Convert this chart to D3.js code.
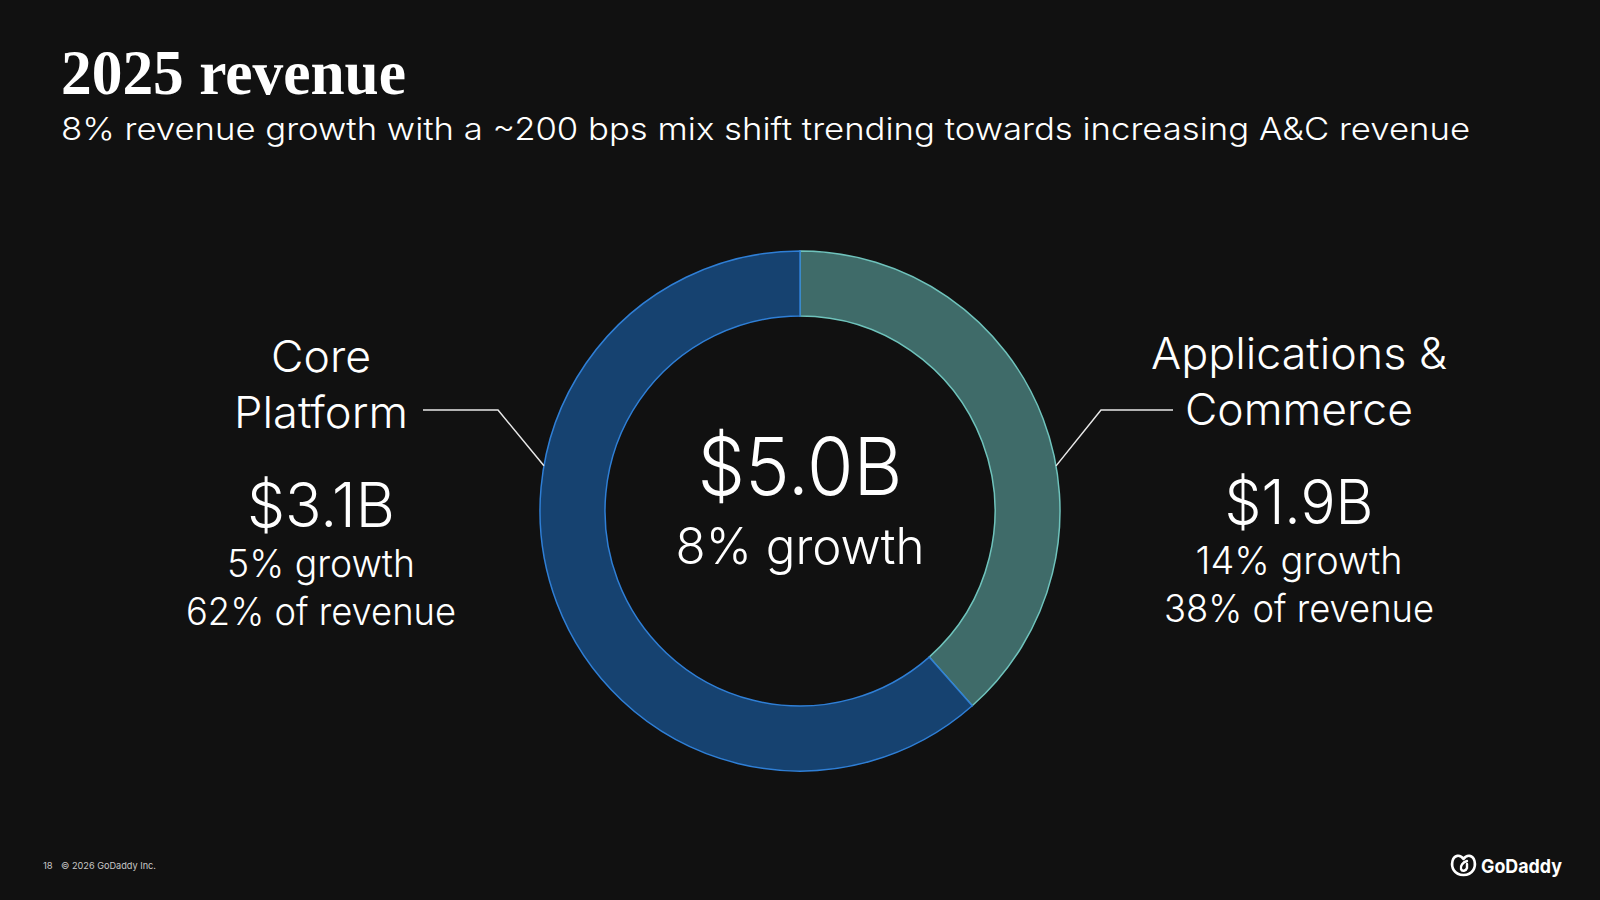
<!DOCTYPE html>
<html>
<head>
<meta charset="utf-8">
<script src="https://cdn.jsdelivr.net/npm/d3@7"></script>
<style>
  html, body { margin: 0; padding: 0; background: #111111; }
  svg { display: block; }
  .sans { font-family: Inter, "Noto Sans", sans-serif; font-weight: 300; fill: #ffffff; }
</style>
</head>
<body>
<div id="chart"></div>
<script>
'use strict';

// segment data, drawn clockwise from 12 o'clock
var segments = ['Applications & Commerce', 'Core Platform'];
var revenueBn = [1.92, 3.07];   // slice sizes as drawn
var shares = [38, 62];          // labelled % of revenue
var revenue = ['$1.9B', '$3.1B'];
var growth = ['14% growth', '5% growth'];
var totalRevenue = '$5.0B';
var totalGrowth = '8% growth';

var width = 1600, height = 900;
var cx = 800, cy = 511;
var outerR = 260, innerR = 195;

var fills = ['#3f6b69', '#164270'];
var strokes = ['#6fc3bc', '#2f7fd6'];

var svg = d3.select('#chart').append('svg')
  .attr('width', width)
  .attr('height', height);

// Title + subtitle
svg.append('text')
  .attr('x', 61).attr('y', 94)
  .attr('font-family', '"Liberation Serif", "DejaVu Serif", serif')
  .attr('font-weight', 700)
  .attr('font-size', 64)
  .attr('fill', '#fff')
  .attr('textLength', 345)
  .attr('lengthAdjust', 'spacingAndGlyphs')
  .text('2025 revenue');

svg.append('text')
  .attr('class', 'sans')
  .attr('x', 61).attr('y', 140)
  .attr('font-size', 31)
  .attr('textLength', 1409)
  .attr('lengthAdjust', 'spacingAndGlyphs')
  .text('8% revenue growth with a ~200 bps mix shift trending towards increasing A&C revenue');

// Donut
var pie = d3.pie().sort(null).value(function(d) { return d; });
var arc = d3.arc().innerRadius(innerR).outerRadius(outerR);

var donut = svg.append('g').attr('transform', 'translate(' + cx + ',' + cy + ')');

donut.selectAll('path.slice')
  .data(pie(revenueBn))
  .enter()
  .append('path')
  .attr('class', 'slice')
  .attr('d', arc)
  .attr('fill', function(d, i) { return fills[i]; })
  .attr('stroke', function(d, i) { return strokes[i]; })
  .attr('stroke-width', 1.5);

// Centre text
svg.append('text').attr('class', 'sans')
  .attr('x', cx).attr('y', 495)
  .attr('text-anchor', 'middle')
  .attr('font-size', 80)
  .attr('textLength', 205).attr('lengthAdjust', 'spacingAndGlyphs')
  .text(totalRevenue);

svg.append('text').attr('class', 'sans')
  .attr('x', cx).attr('y', 564)
  .attr('text-anchor', 'middle')
  .attr('font-size', 50)
  .attr('textLength', 249).attr('lengthAdjust', 'spacingAndGlyphs')
  .text(totalGrowth);

// Leader lines, from the outer edge at +/-80 degrees
function edgePoint(deg) {
  var a = deg * Math.PI / 180;
  return [cx + outerR * Math.sin(a), cy - outerR * Math.cos(a)];
}
var leaders = [
  [edgePoint(80), [1101, 410], [1173, 410]],
  [edgePoint(-80), [498, 410], [423, 410]]
];
svg.selectAll('path.leader')
  .data(leaders)
  .enter()
  .append('path')
  .attr('class', 'leader')
  .attr('d', d3.line())
  .attr('fill', 'none')
  .attr('stroke', '#e8e8e8')
  .attr('stroke-width', 1.5);

// Side labels
var sides = [
  { x: 1299, lines: ['Applications &', 'Commerce'], lw: [296, 228], i: 0, base: [369, 425, 524, 574, 622], ww: [149, 207, 270] },
  { x: 321, lines: ['Core', 'Platform'], lw: [100, 174], i: 1, base: [372, 428, 527, 577, 625], ww: [148, 188, 270] }
];

sides.forEach(function(s) {
  var g = svg.append('g');
  s.lines.forEach(function(t, k) {
    g.append('text').attr('class', 'sans')
      .attr('x', s.x).attr('y', s.base[k])
      .attr('text-anchor', 'middle')
      .attr('font-size', 44)
      .attr('textLength', s.lw[k]).attr('lengthAdjust', 'spacingAndGlyphs')
      .text(t);
  });
  g.append('text').attr('class', 'sans')
    .attr('x', s.x).attr('y', s.base[2])
    .attr('text-anchor', 'middle')
    .attr('font-size', 62)
    .attr('textLength', s.ww[0]).attr('lengthAdjust', 'spacingAndGlyphs')
    .text(revenue[s.i]);
  g.append('text').attr('class', 'sans')
    .attr('x', s.x).attr('y', s.base[3])
    .attr('text-anchor', 'middle')
    .attr('font-size', 38)
    .attr('textLength', s.ww[1]).attr('lengthAdjust', 'spacingAndGlyphs')
    .text(growth[s.i]);
  g.append('text').attr('class', 'sans')
    .attr('x', s.x).attr('y', s.base[4])
    .attr('text-anchor', 'middle')
    .attr('font-size', 38)
    .attr('textLength', s.ww[2]).attr('lengthAdjust', 'spacingAndGlyphs')
    .text(shares[s.i] + '% of revenue');
});

// Footer
svg.append('text')
  .attr('x', 43).attr('y', 869)
  .attr('font-family', 'Inter, sans-serif')
  .attr('font-size', 9.5)
  .attr('fill', '#c8c8c8')
  .text('18');
svg.append('text')
  .attr('x', 61).attr('y', 869)
  .attr('font-family', 'Inter, sans-serif')
  .attr('font-size', 9.5)
  .attr('fill', '#c8c8c8')
  .attr('textLength', 95).attr('lengthAdjust', 'spacingAndGlyphs')
  .text('\u00a9 2026 GoDaddy Inc.');

// Logo
var logo = svg.append('g').attr('transform', 'translate(1450,853)');
logo.append('path')
  .attr('d', 'M13.5,22 C4,22 1,14 2.5,8 C4,2 10,1 13.5,6 C17,1 23,2 24.5,8 C26,14 23,22 13.5,22 Z')
  .attr('fill', 'none')
  .attr('stroke', '#fff')
  .attr('stroke-width', 2.6)
  .attr('stroke-linejoin', 'round');
logo.append('path')
  .attr('d', 'M17,8 C13,9 10,13 11,16 C12,19 16,18 17,15 L17,11')
  .attr('fill', 'none')
  .attr('stroke', '#fff')
  .attr('stroke-width', 2.4)
  .attr('stroke-linecap', 'round');
svg.append('text')
  .attr('x', 1481).attr('y', 873)
  .attr('font-family', 'Inter, sans-serif')
  .attr('font-weight', 700)
  .attr('font-size', 19)
  .attr('fill', '#fff')
  .attr('textLength', 81).attr('lengthAdjust', 'spacingAndGlyphs')
  .text('GoDaddy');
</script>
</body>
</html>
